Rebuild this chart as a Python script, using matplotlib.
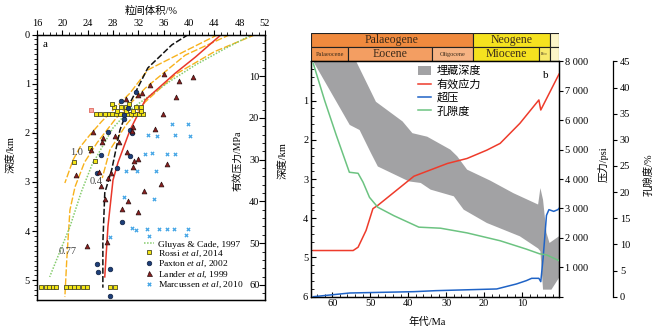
import numpy as np
import matplotlib
matplotlib.use('Agg')
import matplotlib.pyplot as plt
from matplotlib.patches import Patch
from matplotlib.lines import Line2D
from matplotlib.ticker import MultipleLocator, FuncFormatter

plt.rcParams['font.family'] = ['Liberation Serif', 'Noto Sans CJK SC']
plt.rcParams['mathtext.fontset'] = 'custom'
plt.rcParams['mathtext.rm'] = 'Liberation Serif'
plt.rcParams['mathtext.it'] = 'Liberation Serif:italic'
plt.rcParams['font.size'] = 7.5
plt.rcParams['axes.linewidth'] = 0.9

# ---- panel a: intergranular volume (%) vs depth (km) ----
black_igv = [39.9, 37.3, 33.5, 30.7, 29.1, 27.8, 26.7, 26.4, 26.4]
black_dep = [0.0, 0.21, 0.68, 1.39, 1.94, 2.75, 3.22, 4.24, 5.15]
red_igv = [45.1, 41.0, 37.8, 33.1, 30.7, 28.8, 28.0, 27.2, 26.7]
red_dep = [0.0, 0.46, 0.79, 1.33, 1.94, 2.60, 2.96, 3.91, 4.93]
gluyas_igv = [50.0, 45.5, 41.0, 37.0, 33.5, 30.5, 28.0, 25.4, 24.8, 23.0, 21.2, 18.0]
gluyas_dep = [0.0, 0.30, 0.62, 0.95, 1.27, 1.55, 1.90, 2.49, 2.61, 3.20, 3.91, 4.93]
c10_igv = [44.6, 39.5, 33.5, 30.7, 28.3, 26.2, 24.3, 22.8, 21.7, 20.4]
c10_dep = [0.0, 0.33, 0.72, 1.19, 1.50, 1.77, 2.05, 2.29, 2.55, 3.02]
c077_igv = [46.5, 39.4, 33.1, 28.5, 25.5, 23.5, 22.0, 21.2, 20.7, 20.4]
c077_dep = [0.0, 0.42, 1.09, 1.70, 2.20, 2.60, 3.10, 3.57, 4.58, 5.34]
c04_igv = [50.5, 44.0, 38.0, 33.1, 30.0, 27.5, 26.3]
c04_dep = [0.0, 0.35, 0.80, 1.37, 1.85, 2.35, 2.92]

rossi_igv = [25.3, 26.0, 26.7, 27.3, 27.9, 28.5, 29.1, 29.7, 30.3, 30.9, 31.5, 32.1, 32.7,
             28.7, 30.1, 31.2, 32.4, 28.2, 29.3, 30.0, 31.6, 32.4, 27.9, 30.6,
             24.3, 21.8, 25.1,
             16.7, 17.4, 17.9, 18.5, 19.0, 20.6, 21.2, 21.8, 22.5, 23.2, 23.9, 27.5, 28.3]
rossi_dep = [1.61] * 13 + [1.56] * 4 + [1.47] * 5 + [1.42] * 2 + [2.31, 2.60, 2.58] + [5.14] * 13
rossi_odd_igv = [24.6]
rossi_odd_dep = [1.53]

paxton_igv = [29.2, 31.7, 29.7, 29.8, 27.2, 30.7, 26.1, 25.4, 28.6, 30.7, 29.5, 25.5, 25.6,
              27.6, 27.6, 31.0, 30.3]
paxton_dep = [1.35, 1.16, 1.64, 1.72, 1.98, 1.94, 2.45, 2.82, 2.72, 2.48, 3.81, 4.66, 4.84,
              4.77, 5.32, 2.00, 1.50]

lander_igv = [40.6, 38.4, 36.1, 33.9, 37.9, 32.5, 31.9, 35.9, 34.6, 31.2, 31.0, 28.3, 24.9,
              26.5, 26.2, 29.0, 30.2, 22.1, 24.6, 25.8, 26.1, 27.2, 26.8, 27.7, 31.3, 32.0,
              31.2, 36.5, 35.5, 32.9, 30.4, 29.4, 32.0, 27.0, 23.9, 30.0]
lander_dep = [0.86, 0.94, 0.80, 1.03, 1.28, 1.20, 1.24, 1.62, 1.92, 1.89, 1.97, 2.06, 1.98,
              2.10, 2.18, 2.18, 2.38, 2.86, 2.35, 2.79, 3.09, 2.92, 3.34, 2.81, 2.57, 2.54,
              2.69, 2.63, 3.04, 3.19, 3.38, 3.55, 3.62, 4.23, 4.30, 1.32]

marc_igv = [37.3, 39.8, 33.6, 34.9, 37.8, 40.2, 33.1, 34.1, 36.6, 37.8, 30.1, 31.8, 34.8,
            29.7, 34.4, 31.0, 31.6, 33.3, 33.7, 35.3, 36.5, 37.6, 39.6, 39.9, 27.5]
marc_dep = [1.83, 1.82, 2.04, 2.06, 2.04, 2.06, 2.43, 2.41, 2.43, 2.43, 2.77, 2.77, 2.77,
            3.31, 3.34, 3.94, 3.97, 3.96, 4.10, 3.95, 3.95, 3.95, 4.08, 3.95, 4.11]

# ---- panel b: burial history ----
burial_top_age = [65.0, 53.7, 48.5, 41.5, 38.9, 35.0, 28.9, 27.1, 24.5, 18.4, 12.3, 5.8, 5.2,
                  4.5, 3.6, 2.8, 0.3]
burial_top_dep = [0.0, 0.0, 1.03, 1.53, 1.83, 1.92, 2.25, 2.42, 2.76, 3.04, 3.36, 3.65, 3.23,
                  3.53, 4.37, 4.63, 4.46]
burial_base_age = [65.0, 55.4, 52.8, 49.8, 48.0, 39.8, 36.7, 34.1, 28.0, 25.4, 19.3, 10.6, 5.8,
                   5.2, 4.5, 3.6, 2.3, 0.3]
burial_base_dep = [0.0, 1.62, 1.75, 2.34, 2.68, 3.06, 3.10, 3.27, 3.44, 3.78, 4.12, 4.46, 4.77,
                   4.84, 5.82, 5.82, 5.82, 5.52]

stress_age = [65.0, 54.5, 53.2, 51.1, 49.3, 48.0, 38.5, 29.7, 24.5, 19.3, 15.8, 10.6, 5.6, 5.1, 0.3]
stress_psi = [1570, 1570, 1683, 2253, 2993, 3106, 4096, 4529, 4700, 4983, 5212, 5894, 6689,
              6348, 7567]

op_age = [65.0, 55.4, 38.5, 32.8, 16.7, 11.5, 8.9, 7.5, 5.6, 5.1, 4.5, 3.6, 2.95, 1.7, 0.6, 0.3]
op_psi = [0, 126, 171, 205, 263, 433, 546, 625, 625, 512, 1287, 2765, 2960, 2901, 2960, 3003]

phi_age = [65.0, 62.0, 59.0, 55.5, 53.2, 51.9, 50.2, 48.0, 43.8, 37.2, 31.5, 24.5, 15.8, 8.9,
           5.4, 3.6, 0.3]
phi_val = [44.6, 37.5, 31.0, 23.8, 23.6, 21.9, 19.0, 17.1, 15.5, 13.3, 13.1, 12.2, 10.7, 9.1,
           8.2, 8.0, 6.9]

period_names = ['Palaeogene', 'Neogene', '']
period_edges = [65.6, 23.0, 2.7, 0.3]
period_colors = ['#f08a3e', '#f5e21f', '#fcf5c8']
epoch_names = ['Palaeocene', 'Eocene', 'Oligocene', 'Miocene', 'Plio', '']
epoch_edges = [65.6, 55.8, 33.8, 23.0, 5.5, 2.7, 0.3]
epoch_colors = ['#f29652', '#f39e62', '#f6b383', '#f5e21f', '#f8ea6a', '#fcf5c8']
epoch_sizes = [4.5, 8.5, 4.5, 8.5, 3, 5]

W, H = 653, 326


def box(l, t, r, b):
    return [l / W, 1 - b / H, (r - l) / W, (b - t) / H]


fig = plt.figure(figsize=(W / 100, H / 100), dpi=100)

# ================= panel a =================
axa = fig.add_axes(box(37, 34.5, 265, 299.5))
orange = '#f8b21c'
for xs, ys in [(c10_igv, c10_dep), (c077_igv, c077_dep), (c04_igv, c04_dep)]:
    axa.plot(xs, ys, color=orange, lw=1.0, dashes=(5, 1.5))
axa.plot(gluyas_igv, gluyas_dep, color='#86cc6e', lw=1.1, dashes=(1, 1))
axa.plot(red_igv, red_dep, color='#e9372a', lw=1.1)
axa.plot(black_igv, black_dep, color='#111111', lw=1.1, dashes=(4, 1.5))

axa.scatter(rossi_igv, rossi_dep, marker='s', s=10, color='#f3e514', edgecolor='#4b4a25',
            linewidth=0.6, zorder=4)
axa.scatter(rossi_odd_igv, rossi_odd_dep, marker='s', s=12, color='#f6a7a0', edgecolor='#e06a60',
            linewidth=0.6, zorder=4)
axa.scatter(paxton_igv, paxton_dep, marker='o', s=11, color='#1d3e78', edgecolor='#0f2040',
            linewidth=0.5, zorder=4)
axa.scatter(lander_igv, lander_dep, marker='^', s=12, color='#8b1e1e', edgecolor='#2a1010',
            linewidth=0.5, zorder=4)
axa.scatter(marc_igv, marc_dep, marker='X', s=9, color='#45a6e6', linewidth=0, zorder=4)

for txt, x, y in [('1.0', 22.3, 2.41), ('0.4', 25.3, 3.0), ('0.77', 20.8, 4.42)]:
    axa.text(x, y, txt, fontsize=7.5, color='#444444', ha='center', va='center')
axa.text(17.3, 0.2, 'a', fontsize=8, ha='center', va='center')

axa.set_xlim(16, 52)
axa.set_ylim(5.39, 0)
axa.xaxis.tick_top()
axa.xaxis.set_label_position('top')
axa.xaxis.set_major_locator(MultipleLocator(4))
axa.xaxis.set_minor_locator(MultipleLocator(1))
axa.yaxis.set_major_locator(MultipleLocator(1))
axa.yaxis.set_minor_locator(MultipleLocator(0.1))
axa.tick_params(which='major', length=3.5, width=0.8, pad=1.5)
axa.tick_params(which='minor', length=2, width=0.6)
axa.set_xlabel('粒间体积/%', labelpad=3)
axa.set_ylabel('深度/km')
axa.yaxis.set_label_coords(-0.095, 0.547)

axm = axa.twinx()
axm.set_ylim(63.5, 0)
axm.yaxis.set_major_locator(MultipleLocator(10))
axm.yaxis.set_minor_locator(MultipleLocator(2))
axm.tick_params(axis='y', which='major', direction='in', length=4, width=0.8, pad=-11.5)
axm.tick_params(axis='y', which='minor', direction='in', length=2, width=0.6)
axm.yaxis.set_major_formatter(FuncFormatter(lambda v, p: '' if v == 0 else f'{int(v)}'))
axm.set_ylabel('有效压力/MPa', fontsize=7)
axm.yaxis.set_label_coords(0.86, 0.525)

leg_a = [Line2D([], [], color='#86cc6e', lw=1.1, dashes=(1, 1)),
         Line2D([], [], ls='none', marker='s', ms=3.2, mfc='#f3e514', mec='#4b4a25', mew=0.6),
         Line2D([], [], ls='none', marker='o', ms=3.3, mfc='#1d3e78', mec='#0f2040', mew=0.5),
         Line2D([], [], ls='none', marker='^', ms=3.6, mfc='#8b1e1e', mec='#2a1010', mew=0.5),
         Line2D([], [], ls='none', marker='X', ms=3.2, mfc='#45a6e6', mew=0)]
axm.legend(leg_a, ['Gluyas & Cade, 1997', r'Rossi $et\ al$, 2014', r'Paxton $et\ al$, 2002',
                   r'Lander $et\ al$, 1999', r'Marcussen $et\ al$, 2010'],
           loc='upper left', bbox_to_anchor=(144 / W, 1 - 240 / H), bbox_transform=fig.transFigure,
           frameon=False, fontsize=6.8, handlelength=1.1, handletextpad=0.4, labelspacing=0.0,
           borderpad=0, borderaxespad=0)

# ================= panel b =================
axh = fig.add_axes(box(311, 33, 559, 61.4))
axh.set_xlim(65.6, 0.3)
axh.set_ylim(0, 2)
axh.axis('off')
for i, name in enumerate(period_names):
    a0, a1 = period_edges[i], period_edges[i + 1]
    axh.barh(1.5, a0 - a1, left=a1, height=1, color=period_colors[i], edgecolor='#222222', lw=0.8)
    axh.text((a0 + a1) / 2, 1.5, name, ha='center', va='center', fontsize=8.5, color='#3a2a1a')
for i, name in enumerate(epoch_names):
    a0, a1 = epoch_edges[i], epoch_edges[i + 1]
    axh.barh(0.5, a0 - a1, left=a1, height=1, color=epoch_colors[i], edgecolor='#222222', lw=0.8)
    axh.text((a0 + a1) / 2, 0.5, name, ha='center', va='center', fontsize=epoch_sizes[i],
             color='#3a2a1a')

axb = fig.add_axes(box(311, 61.4, 559, 296.7))
axb.fill(np.r_[burial_top_age, burial_base_age[::-1]], np.r_[burial_top_dep, burial_base_dep[::-1]],
         color='#a2a2a4', lw=0)
axb.set_xlim(65.6, 0.3)
axb.set_ylim(6, 0)
axb.xaxis.set_major_locator(MultipleLocator(10))
axb.xaxis.set_minor_locator(MultipleLocator(2))
axb.yaxis.set_major_locator(MultipleLocator(1))
axb.yaxis.set_minor_locator(MultipleLocator(0.2))
axb.yaxis.set_major_formatter(FuncFormatter(lambda v, p: '' if v == 0 else f'{int(v)}'))
axb.tick_params(which='major', direction='in', length=3.5, width=0.8, pad=2)
axb.tick_params(which='minor', direction='in', length=2, width=0.6)
axb.set_xlabel('年代/Ma', labelpad=1)
axb.xaxis.set_label_coords(0.47, -0.085)
axb.set_ylabel('深度/km')
axb.yaxis.set_label_coords(-0.095, 0.58)
axb.text(3.8, 0.37, 'b', fontsize=8, ha='center', va='center')

axp = axb.twinx()
axp.plot(stress_age, stress_psi, color='#ee3b2b', lw=1.1)
axp.plot(op_age, op_psi, color='#1f63c6', lw=1.1)
axp.set_ylim(0, 8000)
axp.yaxis.set_major_locator(MultipleLocator(1000))
axp.yaxis.set_major_formatter(
    FuncFormatter(lambda v, p: '' if v == 0 else f'{int(v):,}'.replace(',', ' ')))
axp.tick_params(axis='y', direction='out', length=3, width=0.8, pad=1.5)
axp.set_ylabel('压力/psi')
axp.yaxis.set_label_coords(1.157, 0.564)

axphi = axb.twinx()
axphi.spines['right'].set_position(('axes', 1 + 54 / 248))
for s in ['top', 'left', 'bottom']:
    axphi.spines[s].set_visible(False)
axphi.plot(phi_age, phi_val, color='#6cc381', lw=1.1)
axphi.set_ylim(0, 45)
axphi.yaxis.set_major_locator(MultipleLocator(5))
axphi.tick_params(axis='y', direction='out', length=3, width=0.8, pad=2)
axphi.set_ylabel('孔隙度/%')
axphi.yaxis.set_label_coords(1.339, 0.52)

leg_b = [Patch(facecolor='#a2a2a4', edgecolor='none'),
         Line2D([], [], color='#ee3b2b', lw=1.1),
         Line2D([], [], color='#1f63c6', lw=1.1),
         Line2D([], [], color='#6cc381', lw=1.1)]
axphi.legend(leg_b, ['埋藏深度', '有效应力', '超压', '孔隙度'], loc='upper left',
             bbox_to_anchor=(418 / W, 1 - 66 / H), bbox_transform=fig.transFigure,
             frameon=False, fontsize=8, handlelength=1.2, handleheight=0.9, handletextpad=0.5,
             labelspacing=0.25, borderpad=0, borderaxespad=0)

fig.savefig('out.png', dpi=100)
